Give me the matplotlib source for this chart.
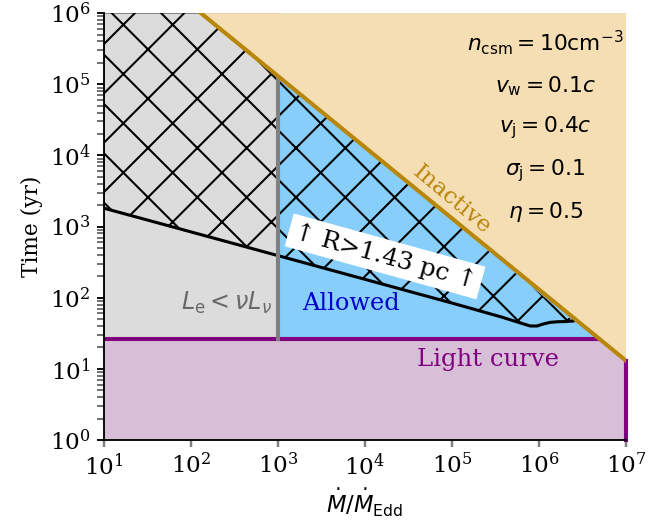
import numpy as np
import matplotlib
matplotlib.use('Agg')
import matplotlib.pyplot as plt

plt.rcParams['font.family'] = 'DejaVu Serif'
plt.rcParams['mathtext.fontset'] = 'dejavusans'
plt.rcParams['hatch.linewidth'] = 1.0

# boundaries
x_min, x_max = 1e1, 1e7
t_min, t_max = 1e0, 1e6
t_lightcurve = 26.0          # light curve lower limit on time
mdot_lum = 1e3               # L_e < nu L_nu below this
inactive_mdot = [130.0, 1e7] # inactive line end points
inactive_t = [1e6, 13.0]

# R > 1.43 pc boundary
mdot_R = [10, 1e2, 1e3, 1e4, 1e5, 3.6e5, 7.9e5, 9.5e5, 1.08e6, 1.34e6, 1.65e6, 2.0e6, 2.46e6]
t_R = [1810, 840, 390, 181, 84, 54, 40, 40, 42.2, 45, 45.9, 46.2, 47]

params = [r'$n_{\rm csm}=10{\rm cm}^{-3}$',
          r'$v_{\rm w}=0.1c$',
          r'$v_{\rm j}=0.4c$',
          r'$\sigma_{\rm j}=0.1$',
          r'$\eta=0.5$']

dpi = 148
fig = plt.figure(figsize=(671/dpi, 525/dpi), dpi=dpi)
ax = fig.add_axes([0.155, 0.162, 0.778, 0.813])
ax.set_xscale('log')
ax.set_yscale('log')
ax.set_xlim(x_min, x_max)
ax.set_ylim(t_min, t_max)

# grey region (L_e < nu L_nu)
ax.fill([x_min, mdot_lum, mdot_lum, x_min], [t_lightcurve, t_lightcurve, t_max, t_max],
        facecolor='gainsboro', edgecolor='grey', lw=0.9, zorder=1)
# allowed region
ax.fill([mdot_lum, x_max, x_max, mdot_lum], [t_lightcurve, t_lightcurve, t_max, t_max],
        facecolor='lightskyblue', edgecolor='none', zorder=1)
# light curve region
ax.fill([x_min, x_max, x_max, x_min], [t_min, t_min, t_lightcurve, t_lightcurve],
        facecolor='thistle', edgecolor='none', zorder=1)
ax.plot([x_min, x_max], [t_lightcurve, t_lightcurve], color='purple', lw=2, zorder=2)
ax.plot([x_max, x_max], [t_min, inactive_t[-1]], color='purple', lw=2, zorder=2, clip_on=False)

# hatched R > 1.43 pc region
hx = list(mdot_R) + [inactive_mdot[0], x_min]
hy = list(t_R) + [inactive_t[0], t_max]
ax.fill(hx, hy, facecolor='none', edgecolor='black', hatch='x', lw=0, zorder=2)
ax.plot(mdot_R, t_R, color='black', lw=1.5, zorder=3)

# luminosity limit
ax.plot([mdot_lum, mdot_lum], [t_lightcurve, t_max], color='grey', lw=2, zorder=3)

# inactive region
ax.fill(inactive_mdot + [x_max], inactive_t + [t_max], facecolor='wheat',
        edgecolor='none', zorder=4)
ax.plot(inactive_mdot, inactive_t, color='darkgoldenrod', lw=2, zorder=5)

# labels
ax.text(1.7e4, 380, '↑ R>1.43 pc ↑', fontsize=12, rotation=-15.5,
        ha='center', va='center', zorder=6,
        bbox=dict(facecolor='white', edgecolor='none', pad=2.5))
ax.text(6.8e3, 84, 'Allowed', color='mediumblue', fontsize=11.7, ha='center', va='center', zorder=6)
ax.text(255, 84, r'$L_{\rm e}<\nu L_\nu$', color='dimgrey', fontsize=11.6,
        ha='center', va='center', zorder=6)
ax.text(2.6e5, 13.7, 'Light curve', color='purple', fontsize=11.8, ha='center', va='center', zorder=6)
ax.text(1.0e5, 2400, 'Inactive', color='darkgoldenrod', fontsize=11.3, rotation=-40,
        ha='center', va='center', zorder=6)

ys = [0.932, 0.829, 0.731, 0.632, 0.534]
for s, yy in zip(params, ys):
    ax.text(0.845, yy, s, transform=ax.transAxes, fontsize=10.6, ha='center', va='center', zorder=6)

ax.spines['top'].set_visible(False)
ax.spines['right'].set_visible(False)
for sp in ['left', 'bottom']:
    ax.spines[sp].set_zorder(7)
    ax.spines[sp].set_linewidth(0.9)

ax.set_xticks([10.0**k for k in range(1, 8)])
ax.xaxis.set_minor_locator(matplotlib.ticker.NullLocator())
ax.set_yticks([10.0**k for k in range(0, 7)])
ax.tick_params(axis='x', which='major', color='grey', length=3.5, width=1.2, labelsize=11.25, pad=3)
ax.tick_params(axis='y', which='major', color='black', length=3.5, width=0.9, labelsize=11.25, pad=3)
ax.tick_params(axis='y', which='minor', color='dimgrey', length=3.5, width=0.9)

ax.set_xlabel(r'$\dot{M}/\dot{M}_{\rm Edd}$', fontsize=11, labelpad=3)
ax.set_ylabel('Time (yr)', fontsize=10.5, labelpad=3)

fig.savefig('out.png', dpi=dpi)
